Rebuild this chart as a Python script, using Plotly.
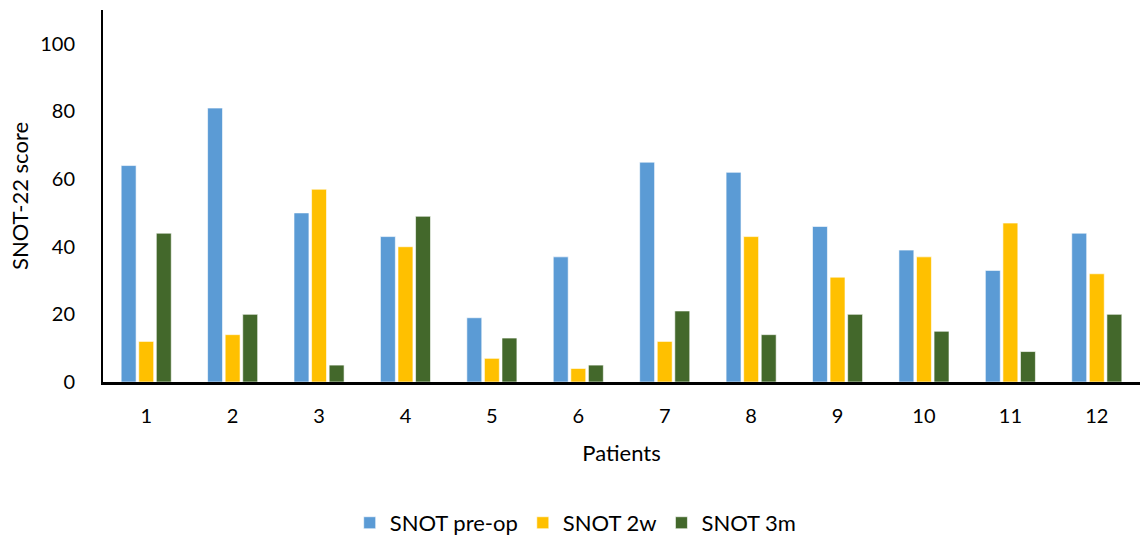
import plotly.graph_objects as go

patients = ["1", "2", "3", "4", "5", "6", "7", "8", "9", "10", "11", "12"]
snot_pre_op = [64, 81, 50, 43, 19, 37, 65, 62, 46, 39, 33, 44]
snot_2w = [12, 14, 57, 40, 7, 4, 12, 43, 31, 37, 47, 32]
snot_3m = [44, 20, 5, 49, 13, 5, 21, 14, 20, 15, 9, 20]

series = [
    ("SNOT pre-op", snot_pre_op, "#5B9BD5"),
    ("SNOT 2w", snot_2w, "#FFC000"),
    ("SNOT 3m", snot_3m, "#43682B"),
]

font_family = "Lato, Open Sans, sans-serif"

fig = go.Figure()
for name, values, color in series:
    fig.add_trace(go.Bar(
        x=patients, y=values, name=name,
        marker=dict(color=color, line=dict(color="rgba(255,255,255,0.6)", width=1)),
    ))

fig.update_layout(
    width=1140, height=538,
    margin=dict(l=103, r=0, t=10, b=156, autoexpand=False),
    paper_bgcolor="white", plot_bgcolor="white",
    barmode="group", bargap=0.39, bargroupgap=0.15,
    font=dict(family=font_family, size=20, color="#000000"),
    showlegend=True,
    legend=dict(
        orientation="h", xref="container", x=0.505, xanchor="center",
        yref="container", y=0.028, yanchor="middle",
        font=dict(size=22), itemwidth=30, traceorder="normal",
    ),
    xaxis=dict(
        showline=True, linecolor="black", linewidth=2.5,
        showgrid=False, ticks="", tickfont=dict(size=20),
        ticklabelstandoff=14,
        title=dict(text="Patients", font=dict(size=22), standoff=20),
    ),
    yaxis=dict(
        range=[0, 110], tickvals=[0, 20, 40, 60, 80, 100],
        showline=True, linecolor="black", linewidth=2,
        showgrid=False, zeroline=False, ticks="", tickfont=dict(size=20),
        ticklabelstandoff=22,
        title=dict(text="SNOT-22 score", font=dict(size=22), standoff=5),
    ),
)

fig.write_html("out.html")
